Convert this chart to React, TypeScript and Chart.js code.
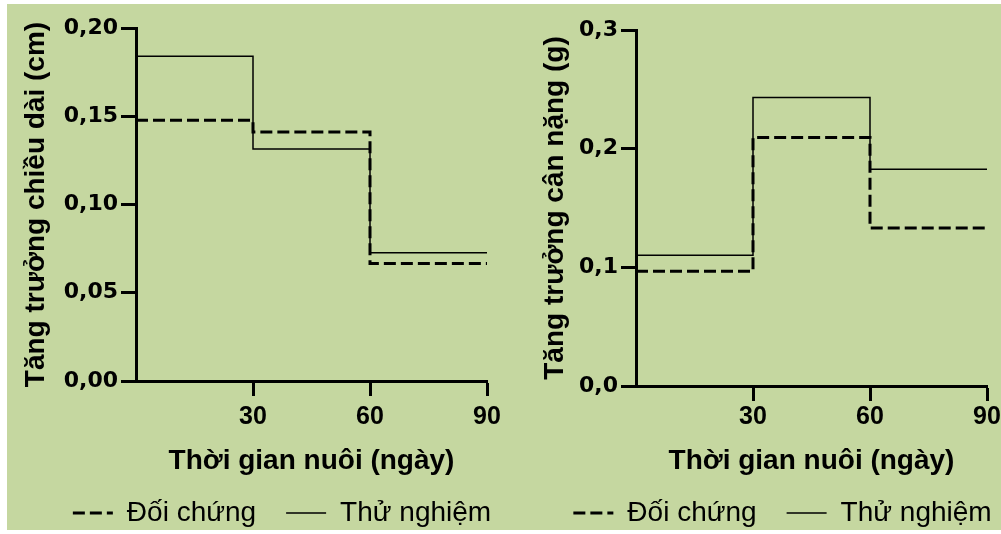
import React, { useEffect, useRef } from "react";
import { Chart, registerables } from "chart.js";

Chart.register(...registerables);

// ---- data ----
const periodStarts = [0, 30, 60];
const periodEnd = 90;
const seriesNames = ["Đối chứng", "Thử nghiệm"];
const lengthControl = [0.1477, 0.1411, 0.0666];
const lengthTrial = [0.184, 0.1314, 0.0726];
const weightControl = [0.0966, 0.2094, 0.1332];
const weightTrial = [0.1101, 0.2432, 0.1827];
const xTickValues = [30, 60, 90];
const lengthYTicks = [0, 0.05, 0.1, 0.15, 0.2];
const weightYTicks = [0, 0.1, 0.2, 0.3];
const xTitle = "Thời gian nuôi (ngày)";
const lengthTitle = "Tăng trưởng chiều dài (cm)";
const weightTitle = "Tăng trưởng cân nặng (g)";

const SANS = '"Liberation Sans", Arial, sans-serif';
const TICKFONT = '"DejaVu Sans", sans-serif';

function toSteps(values: number[]) {
  const pts = periodStarts.map((x, i) => ({ x, y: values[i] }));
  pts.push({ x: periodEnd, y: values[values.length - 1] });
  return pts;
}

type P = {
  control: number[];
  trial: number[];
  yTicks: number[];
  decimals: number;
  yTitle: string;
  yWidth: number;
  yTitlePad: number;
  xHeight: number;
  xTickPad: number;
  topPad: number;
  rightSpace: number;
};

function makeConfig(p: P): any {
  const axisCommon = {
    grid: {
      display: true,
      drawOnChartArea: false,
      drawTicks: true,
      tickLength: 15,
      tickWidth: 3,
      tickColor: "#000",
      color: "#000",
    },
    border: { display: true, color: "#000", width: 3 },
  };
  return {
    type: "line",
    data: {
      datasets: [
        {
          label: seriesNames[0],
          data: toSteps(p.control),
          stepped: "before",
          borderColor: "#000",
          backgroundColor: "transparent",
          borderWidth: 3,
          borderDash: [12, 5],
          pointRadius: 0,
          fill: false,
          yAxisID: "y",
        },
        {
          label: seriesNames[1],
          data: toSteps(p.trial),
          stepped: "before",
          borderColor: "#000",
          backgroundColor: "transparent",
          borderWidth: 1.5,
          pointRadius: 0,
          fill: false,
          yAxisID: "y",
        },
      ],
    },
    options: {
      responsive: false,
      animation: false,
      devicePixelRatio: 1,
      layout: { padding: { top: p.topPad, right: 0, bottom: 0, left: 0 } },
      plugins: {
        legend: {
          position: "bottom",
          labels: {
            boxWidth: 40,
            boxHeight: 0,
            padding: 30,
            color: "#000",
            font: { family: SANS, size: 28, weight: "normal" },
          },
        },
        tooltip: { enabled: false },
      },
      scales: {
        x: {
          type: "linear",
          min: 0,
          max: periodEnd,
          afterBuildTicks: (s: any) => {
            s.ticks = xTickValues.map((v) => ({ value: v }));
          },
          afterFit: (s: any) => {
            s.height = p.xHeight;
          },
          ticks: {
            color: "#000",
            padding: p.xTickPad,
            maxRotation: 0,
            autoSkip: false,
            font: { family: SANS, size: 25, weight: "bold" },
          },
          ...axisCommon,
          title: {
            display: true,
            text: xTitle,
            color: "#000",
            font: { family: SANS, size: 28, weight: "bold" },
            padding: { top: 0, bottom: -9 },
          },
        },
        y: {
          type: "linear",
          position: "left",
          min: 0,
          max: p.yTicks[p.yTicks.length - 1],
          afterBuildTicks: (s: any) => {
            s.ticks = p.yTicks.map((v) => ({ value: v }));
          },
          afterFit: (s: any) => {
            s.width = p.yWidth;
          },
          ticks: {
            color: "#000",
            padding: 3,
            font: { family: TICKFONT, size: 22, weight: "bold" },
            callback: (v: any) => Number(v).toFixed(p.decimals).replace(".", ","),
          },
          ...axisCommon,
          title: {
            display: true,
            text: p.yTitle,
            color: "#000",
            font: { family: SANS, size: 28, weight: "bold" },
            padding: { top: p.yTitlePad, bottom: 0 },
          },
        },
        // empty spacer on the right so the legend keeps the full width
        spacer: {
          type: "linear",
          position: "right",
          display: true,
          ticks: { display: false },
          grid: { display: false, drawTicks: false },
          border: { display: false },
          afterFit: (s: any) => {
            s.width = p.rightSpace;
          },
        },
      },
    },
  };
}

function StepChart(props: { p: P; left: number; width: number; height: number }) {
  const ref = useRef<HTMLCanvasElement | null>(null);
  useEffect(() => {
    if (!ref.current) return;
    const chart = new Chart(ref.current, makeConfig(props.p));
    return () => chart.destroy();
  }, []);
  return (
    <canvas
      ref={ref}
      width={props.width}
      height={props.height}
      style={{ position: "absolute", left: props.left, top: 0 }}
    />
  );
}

const leftParams: P = {
  control: lengthControl,
  trial: lengthTrial,
  yTicks: lengthYTicks,
  decimals: 2,
  yTitle: lengthTitle,
  yWidth: 129,
  yTitlePad: 12,
  xHeight: 88,
  xTickPad: 6,
  topPad: 28,
  rightSpace: 70,
};

const rightParams: P = {
  control: weightControl,
  trial: weightTrial,
  yTicks: weightYTicks,
  decimals: 1,
  yTitle: weightTitle,
  yWidth: 116,
  yTitlePad: 18,
  xHeight: 83,
  xTickPad: 1,
  topPad: 30,
  rightSpace: 58,
};

export default function App() {
  return (
    <div
      style={{
        position: "absolute",
        left: 0,
        top: 0,
        width: 1001,
        height: 534,
        overflow: "hidden",
        background: "#fff",
      }}
    >
      <div
        style={{
          position: "absolute",
          left: 7,
          top: 4,
          width: 994,
          height: 526,
          background: "#C5D7A0",
        }}
      />
      <StepChart p={leftParams} left={7} width={550} height={537} />
      <StepChart p={rightParams} left={520} width={525} height={537} />
    </div>
  );
}
